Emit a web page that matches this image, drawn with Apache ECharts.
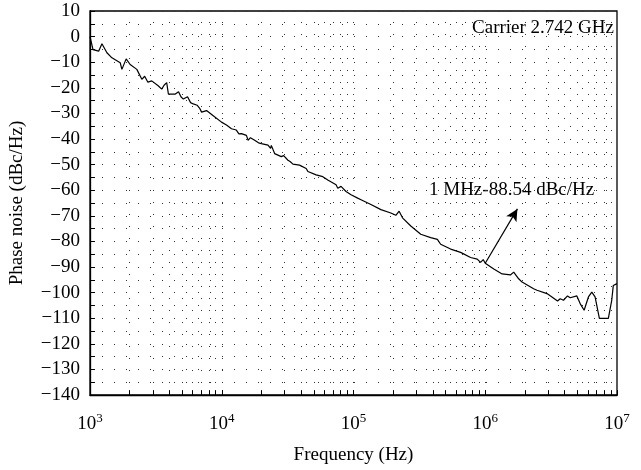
<!DOCTYPE html>
<html>
<head>
<meta charset="utf-8">
<script src="https://cdn.jsdelivr.net/npm/echarts@6/dist/echarts.min.js"></script>
<style>
  html, body { margin: 0; padding: 0; background: #fff; }
  #chart { width: 641px; height: 470px; }
</style>
</head>
<body>
<div id="chart"></div>
<script>
// Offset frequency (Hz) and measured single-sideband phase noise (dBc/Hz)
const freqHz = [
  1000, 1054, 1163, 1232, 1344, 1467, 1695, 1746, 1882, 2017, 2267, 2474, 2600, 2750,
  2943, 3308, 3500, 3650, 3820, 3937, 4416, 4700, 4900, 5110, 5500, 5800, 6083, 6500,
  6800, 7030, 7666, 8617, 9956, 10860, 11850, 12900, 13500, 14100, 15390, 15850, 16500,
  17780, 19000, 19980, 22450, 23490, 23780, 25190, 28300, 29500, 31800, 33000, 34700,
  38930, 43740, 45060, 52050, 58500, 63810, 73750, 75960, 80430, 87770, 95740, 107600,
  114000, 135600, 161400, 192100, 209600, 222000, 235500, 272200, 323900, 385500,
  433200, 458700, 546100, 650100, 773600, 869500, 920600, 965000, 1000000, 1161000,
  1343000, 1552000, 1644000, 1793000, 1903000, 2329000, 2471000, 2940000, 3208000,
  3537000, 3707000, 3926000, 4209000, 4412000, 4958000, 5252000, 5629000, 5829000,
  6068000, 6438000, 6818000, 7348000, 8596000, 9120000, 9375000, 10000000
];
const phaseNoise = [
  0, -5.1, -5.7, -2.8, -6.3, -8.3, -10.2, -12.8, -8.7, -10.9, -12.8, -16.7, -15.5, -17.8,
  -17.3, -19.3, -20.5, -19, -18, -22.5, -22.5, -21.5, -23.5, -24.4, -23.5, -25.8, -26.3, -26.8,
  -28, -29.5, -28.9, -30.9, -33.4, -34.5, -36, -36.5, -38, -37.9, -38.6, -40.5, -39.5,
  -40.5, -41.5, -41.8, -42.4, -43.7, -42.5, -45.7, -46.9, -46.5, -48.3, -48.8, -49.8,
  -50.2, -51.5, -52.7, -54, -54.7, -56, -57.9, -59.2, -58.5, -60.5, -61.8, -63.1,
  -63.7, -65.6, -67.6, -68.9, -69.8, -68.2, -70.8, -74, -77.2, -78.5,
  -79.2, -81.1, -83, -84.3, -86.3, -86.9, -88.2, -87.1, -88.54, -90.8,
  -92.7, -93.1, -92, -94.6, -95.9, -98.5, -99.1, -100.4, -101.7,
  -103.3, -102.4, -103, -101.3, -102, -101.3, -104.3, -106.9, -106.9,
  -101.7, -99.8, -101.7, -110.1, -110.1, -103, -97.2, -96.5
];

// Vertical grid positions: 2..9 x 10^n inside each decade, plus the decades
const decadeMultipliers = [2, 3, 4, 5, 6, 7, 8, 9];
const decades = [1e3, 1e4, 1e5, 1e6];

// Annotation: value at 1 MHz and where its pointer ends
const markerFreq = 1e6;
const markerValue = -88.54;
const arrowEnd = [1.754e6, -67.3];

const SERIF = '"Liberation Serif", "DejaVu Serif", serif';

const gridFreqs = [];
decades.forEach(d => decadeMultipliers.forEach(m => gridFreqs.push(d * m)));
decades.slice(1).forEach(d => gridFreqs.push(d));

const dotted = { color: '#333', width: 1, type: [1, 11] };

const chart = echarts.init(document.getElementById('chart'), null, { renderer: 'canvas' });
chart.setOption({
  animation: false,
  backgroundColor: '#fff',
  grid: { left: 88, right: 24, top: 11, bottom: 71, show: true, borderColor: '#000', borderWidth: 1.3, backgroundColor: 'transparent' },
  xAxis: {
    type: 'log',
    logBase: 10,
    min: 1e3,
    max: 1e7,
    name: 'Frequency (Hz)',
    nameLocation: 'middle',
    nameGap: 51,
    nameTextStyle: { color: '#000', fontFamily: SERIF, fontSize: 19 },
    axisLine: { onZero: false, lineStyle: { color: '#000', width: 1.3 } },
    axisTick: { inside: true, length: 5, lineStyle: { color: '#000' } },
    splitLine: { show: false },
    axisLabel: {
      margin: 17,
      color: '#000',
      formatter: v => '{b|10}{s|' + Math.round(Math.log10(v)) + '}',
      rich: {
        b: { fontFamily: SERIF, fontSize: 19, color: '#000' },
        s: { fontFamily: SERIF, fontSize: 13, color: '#000', padding: [0, 0, 11, 0] }
      }
    }
  },
  yAxis: {
    type: 'value',
    min: -140,
    max: 10,
    interval: 10,
    name: 'Phase noise (dBc/Hz)',
    nameLocation: 'middle',
    nameGap: 63,
    nameTextStyle: { color: '#000', fontFamily: SERIF, fontSize: 19 },
    axisLine: { onZero: false, lineStyle: { color: '#000', width: 1.3 } },
    axisTick: { inside: true, length: 5, lineStyle: { color: '#000' } },
    minorTick: { show: true, splitNumber: 2, length: 5, lineStyle: { color: '#000' } },
    splitLine: { show: true, lineStyle: dotted },
    minorSplitLine: { show: true, lineStyle: dotted },
    axisLabel: {
      margin: 10,
      color: '#000',
      fontFamily: SERIF,
      fontSize: 19,
      formatter: v => String(v).replace('-', '\u2212')
    }
  },
  series: [
    {
      type: 'line',
      data: freqHz.map((f, i) => [f, phaseNoise[i]]),
      showSymbol: false,
      symbol: 'none',
      lineStyle: { color: '#000', width: 1.2 },
      z: 5,
      markLine: {
        silent: true,
        symbol: 'none',
        label: { show: false },
        lineStyle: dotted,
        data: gridFreqs.map(f => ({ xAxis: f }))
      }
    },
    {
      // minor ticks along the bottom axis at each grid frequency
      type: 'line',
      data: [],
      markLine: {
        silent: true,
        symbol: 'none',
        label: { show: false },
        lineStyle: { color: '#000', width: 1, type: 'solid' },
        data: gridFreqs.map(f => [{ coord: [f, -140] }, { coord: [f, -138.1] }])
      }
    },
    {
      // pointer from the 1 MHz reading to its label
      type: 'line',
      data: [],
      markLine: {
        silent: true,
        symbol: ['none', 'arrow'],
        symbolSize: [9, 12],
        label: { show: false },
        lineStyle: { color: '#000', width: 1.2, type: 'solid' },
        data: [[{ coord: [markerFreq, markerValue] }, { coord: arrowEnd }]]
      }
    }
  ],
  graphic: [
    {
      type: 'text',
      right: 27,
      top: 19,
      style: { text: 'Carrier 2.742 GHz', fill: '#000', font: '19px ' + SERIF }
    },
    {
      type: 'text',
      left: 429,
      top: 181,
      style: { text: '1 MHz-88.54 dBc/Hz', fill: '#000', font: '19px ' + SERIF }
    }
  ]
});
</script>
</body>
</html>
